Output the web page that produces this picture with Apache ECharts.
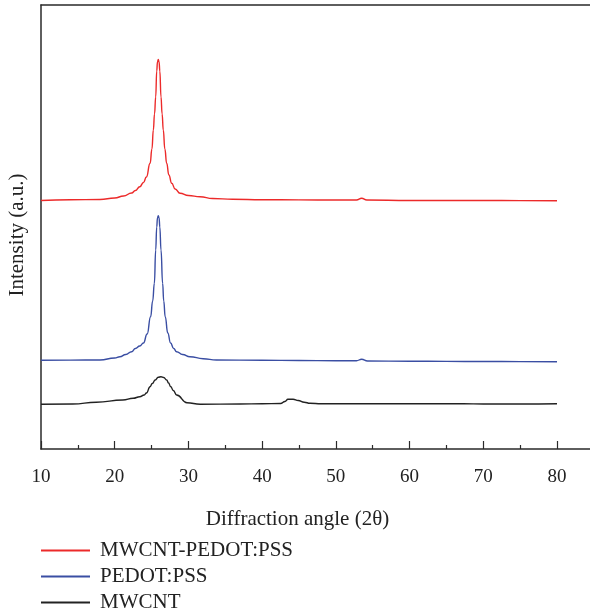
<!DOCTYPE html>
<html>
<head>
<meta charset="utf-8">
<script src="https://cdn.jsdelivr.net/npm/echarts@6/dist/echarts.min.js"></script>
<style>html,body{margin:0;padding:0;background:#fff;}#c{width:590px;height:616px;}</style>
</head>
<body>
<div id="c"></div>
<script>
// Diffraction angle (2θ) sample points and intensities (a.u.)
const redAngles = [10, 14, 18, 20, 21.2, 22.3, 22.8, 23.4, 23.9, 24.3, 24.8, 25.05, 25.24, 25.4, 25.56, 25.7, 25.8, 25.91, 26.02, 26.12, 26.28, 26.43, 26.59, 26.8, 27.05, 27.35, 27.73, 28.2, 28.86, 30, 31.57, 33.3, 36, 40, 45, 50, 52.8, 53.5, 54.2, 60, 65, 70, 75, 80];
const redValues = [248.5, 249.2, 249.5, 251, 253, 256, 258.5, 262.3, 266.5, 272, 285.7, 300, 319, 335, 352, 378, 387, 389.5, 387, 378, 352, 335, 319, 300, 285.7, 274, 265.7, 260, 255.7, 253.5, 252.3, 250.5, 249.8, 249.3, 249.1, 249, 249, 250.7, 249, 248.5, 248.6, 248.5, 248.4, 248.3];

const blueAngles = [10, 14, 18, 20, 20.7, 21.5, 22.3, 22.8, 23.4, 23.9, 24.4, 24.87, 25.15, 25.38, 25.56, 25.7, 25.8, 25.91, 26.02, 26.12, 26.28, 26.5, 26.65, 26.85, 27.2, 27.58, 28.0, 28.39, 29.2, 30.2, 32, 33.8, 40, 45, 50, 52.8, 53.5, 54.3, 60, 65, 70, 75, 80];
const blueValues = [88.7, 88.9, 89, 91, 92.3, 94.5, 97.3, 100.5, 103, 106, 115, 132.3, 148, 165.7, 199, 222, 231, 233.3, 231, 222, 199, 165.7, 148, 132.3, 116, 106, 100.5, 97.3, 94.5, 92.3, 90.3, 89, 88.7, 88.5, 88.3, 88.3, 89.7, 88, 87.8, 87.6, 87.5, 87.4, 87.3];

const blackAngles = [10, 14.3, 17.5, 21.1, 22.5, 23.4, 24.0, 24.3, 24.8, 25.1, 25.5, 25.9, 26.28, 26.65, 27.05, 27.3, 27.6, 27.95, 28.4, 29.8, 31.6, 37, 40, 42.5, 43.1, 43.5, 44.2, 44.9, 45.7, 46.5, 48, 53.7, 60, 67.3, 70, 75, 80];
const blackValues = [44.7, 45, 46.7, 49, 50.7, 52.3, 54, 56, 62.3, 65.5, 69, 71.7, 72.3, 71.5, 69, 66, 62.3, 58.5, 54, 46.3, 44.7, 45, 45.3, 45.5, 47.5, 49.7, 49.8, 48.5, 46.8, 45.7, 45.2, 45.3, 45.2, 45.3, 45, 45, 45.3];

const seriesNames = ['MWCNT-PEDOT:PSS', 'PEDOT:PSS', 'MWCNT'];
const xName = 'Diffraction angle (2\u03b8)';
const yName = 'Intensity (a.u.)';

function pairs(xs, ys) { return xs.map((x, i) => [x, ys[i]]); }

const FONT = 'Liberation Serif';
const AXIS = '#2a2a2a';
const chart = echarts.init(document.getElementById('c'), null, { renderer: 'canvas' });

function lineSeries(name, xs, ys, color) {
  return {
    name, type: 'line', data: pairs(xs, ys), showSymbol: false, symbol: 'none',
    smooth: 0.5, smoothMonotone: 'x',
    lineStyle: { color, width: 1.4 }, itemStyle: { color }, animation: false
  };
}

chart.setOption({
  animation: false,
  backgroundColor: '#fff',
  grid: { left: 41, top: 5, right: -2, bottom: 167, outerBoundsMode: 'none', containLabel: false },
  legend: {
    orient: 'vertical', left: 41, top: 540, height: 120, padding: 0,
    itemWidth: 49, itemHeight: 2, itemGap: 5, icon: 'rect',
    textStyle: { fontFamily: FONT, fontSize: 21, color: '#222', padding: [0, 0, 0, 5] },
    data: seriesNames
  },
  xAxis: [{
    type: 'value', min: 10, max: 84.75, interval: 10,
    name: xName, nameLocation: 'middle', nameGap: 60,
    nameTextStyle: { fontFamily: FONT, fontSize: 21, color: '#222', padding: [0, 38, 0, 0] },
    axisLine: { show: true, lineStyle: { color: AXIS, width: 1.5 } },
    axisTick: { show: true, inside: true, length: 8, lineStyle: { color: AXIS, width: 1.2 } },
    minorTick: { show: true, splitNumber: 2, length: 4, lineStyle: { color: AXIS, width: 1.2 } },
    axisLabel: { fontFamily: FONT, fontSize: 19, color: '#222', margin: 19, showMaxLabel: false },
    splitLine: { show: false }
  }, {
    type: 'value', min: 10, max: 84.75, position: 'top',
    axisLine: { show: true, lineStyle: { color: AXIS, width: 1.5 } },
    axisTick: { show: false }, axisLabel: { show: false }, splitLine: { show: false }
  }],
  yAxis: {
    type: 'value', min: 0, max: 444,
    name: yName, nameLocation: 'middle', nameGap: 13,
    nameTextStyle: { fontFamily: FONT, fontSize: 21, color: '#222', padding: [0, 16, 0, 0] },
    axisLine: { show: true, lineStyle: { color: AXIS, width: 1.5 } },
    axisTick: { show: false }, axisLabel: { show: false }, splitLine: { show: false }
  },
  series: [
    lineSeries(seriesNames[0], redAngles, redValues, '#ec2a2a'),
    lineSeries(seriesNames[1], blueAngles, blueValues, '#3a4ea3'),
    lineSeries(seriesNames[2], blackAngles, blackValues, '#222222')
  ]
});
</script>
</body>
</html>
